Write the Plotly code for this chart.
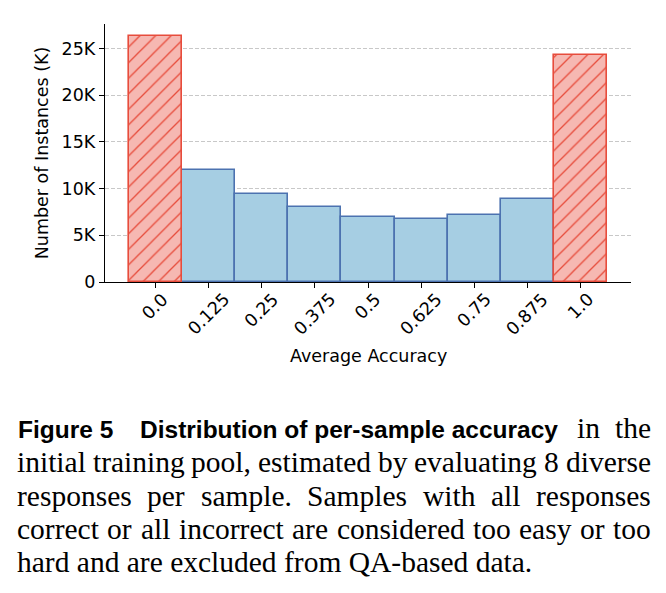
import math
import plotly.graph_objects as go

# ---- data ----
categories = ["0.0", "0.125", "0.25", "0.375", "0.5", "0.625", "0.75", "0.875", "1.0"]
counts = [26300, 11980, 9380, 8060, 6960, 6780, 7210, 8890, 24250]
excluded = [True, False, False, False, False, False, False, False, True]
y_tickvals = [0, 5000, 10000, 15000, 20000, 25000]
y_ticktext = ["0", "5K", "10K", "15K", "20K", "25K"]
x_title = "Average Accuracy"
y_title = "Number of Instances (K)"

caption_bold = ["Figure 5", "Distribution of per-sample accuracy"]
caption_lines = [
    "in the",
    "initial training pool, estimated by evaluating 8 diverse",
    "responses per sample. Samples with all responses",
    "correct or all incorrect are considered too easy or too",
    "hard and are excluded from QA-based data.",
]

W, H = 666, 593
L, R, T, B = 105, 631, 24, 282  # plot area in pixels
FS = 17.5


def px(X):
    return (X - L) / (R - L)


def py(Y):
    return (B - Y) / (B - T)


idx = list(range(len(categories)))
mid_x = [i for i in idx if not excluded[i]]
ext_x = [i for i in idx if excluded[i]]

fig = go.Figure()
fig.add_trace(go.Bar(
    x=mid_x, y=[counts[i] for i in mid_x], width=1.0,
    marker=dict(color="#a6cee3", line=dict(color="#4c72b0", width=1.6)),
    showlegend=False,
))
fig.add_trace(go.Bar(
    x=ext_x, y=[counts[i] for i in ext_x], width=1.0,
    marker=dict(color="#f6b8b2", line=dict(color="#e74c3c", width=1.6),
                pattern=dict(shape="/", fgcolor="#e74c3c", bgcolor="#f6b8b2",
                             size=11, solidity=0.12, fillmode="replace")),
    showlegend=False,
))

fig.update_layout(
    width=W, height=H,
    margin=dict(l=L, r=W - R, t=T, b=H - B, pad=0),
    paper_bgcolor="white", plot_bgcolor="white",
    barmode="overlay", bargap=0,
    font=dict(family="DejaVu Sans", size=FS, color="black"),
    xaxis=dict(
        range=[-0.95, 8.95], tickmode="array", tickvals=idx, ticktext=categories,
        showticklabels=False, showline=True, linecolor="black", linewidth=1.3,
        ticks="outside", ticklen=5, tickwidth=1.2, tickcolor="black",
        showgrid=False, zeroline=False,
    ),
    yaxis=dict(
        range=[0, 26300 * 1.05], tickmode="array", tickvals=y_tickvals, ticktext=y_ticktext,
        showline=True, linecolor="black", linewidth=1.3,
        ticks="outside", ticklen=5, tickwidth=1.2, tickcolor="black",
        showgrid=True, gridcolor="#c8c8c8", gridwidth=0.8, griddash="4px,2px",
        zeroline=False, tickfont=dict(size=FS),
        title=dict(text=y_title, font=dict(size=FS), standoff=8),
    ),
)

# ---- rotated x tick labels (centred under each tick, like matplotlib) ----
DEJAVU = {"0": 636, "1": 636, "2": 636, "3": 636, "4": 636, "5": 636, "6": 636,
          "7": 636, "8": 636, "9": 636, ".": 318}
for i, lab in zip(idx, categories):
    w = FS * sum(DEJAVU[c] for c in lab) / 1000.0
    h = 13.0
    s = (w + h) / math.sqrt(2)
    yc = B + 5 + 5 + s / 2
    fig.add_annotation(text=lab, x=i, xref="x", y=py(yc), yref="paper",
                       xanchor="center", yanchor="middle", textangle=-45,
                       showarrow=False, font=dict(size=FS))

fig.add_annotation(text=x_title, x=px((L + R) / 2), y=py(356), xref="paper", yref="paper",
                   xanchor="center", yanchor="middle", showarrow=False, font=dict(size=FS))

# ---- caption (justified with Times-compatible metrics) ----
TIMES = {" ": 250, "a": 444, "b": 500, "c": 444, "d": 500, "e": 444, "f": 333, "g": 500,
         "h": 500, "i": 278, "j": 278, "k": 500, "l": 278, "m": 778, "n": 500, "o": 500,
         "p": 500, "q": 500, "r": 333, "s": 389, "t": 278, "u": 500, "v": 500, "w": 722,
         "x": 500, "y": 500, "z": 444, ",": 250, ".": 250, "-": 333, "8": 500,
         "A": 722, "Q": 722, "S": 556}
SFS = 29.5
serif_font = dict(family="Liberation Serif", size=SFS, color="black")
bold_font = dict(family="Liberation Sans", size=24.5, color="black")
LEFT, RIGHT = 15, 649
baselines = [437, 471, 505, 538, 571]


def tw(word, size):
    return size * sum(TIMES.get(c, 500) for c in word) / 1000.0


def add_text(text, X, baseline, font, anchor="left"):
    fig.add_annotation(text=text, x=px(X), y=py(baseline - 0.3 * font["size"]),
                       xref="paper", yref="paper", xanchor=anchor, yanchor="middle",
                       showarrow=False, font=font)


def justify(words, start, end, baseline):
    widths = [tw(w, SFS) for w in words]
    gap = (end - start - sum(widths)) / (len(words) - 1)
    X = start
    for w, wd in zip(words, widths):
        add_text(w, X, baseline, serif_font)
        X += wd + gap


# line 1: bold lead-in followed by justified serif words
add_text("<b>" + caption_bold[0] + "</b>", 16, baselines[0], bold_font)
add_text("<b>" + caption_bold[1] + "</b>", 138, baselines[0], bold_font)
justify(["", *caption_lines[0].split()], 560, RIGHT, baselines[0])
for k in (1, 2, 3):
    justify(caption_lines[k].split(), LEFT, RIGHT, baselines[k])
add_text(caption_lines[4], LEFT, baselines[4], serif_font)

fig.write_html("out.html")
